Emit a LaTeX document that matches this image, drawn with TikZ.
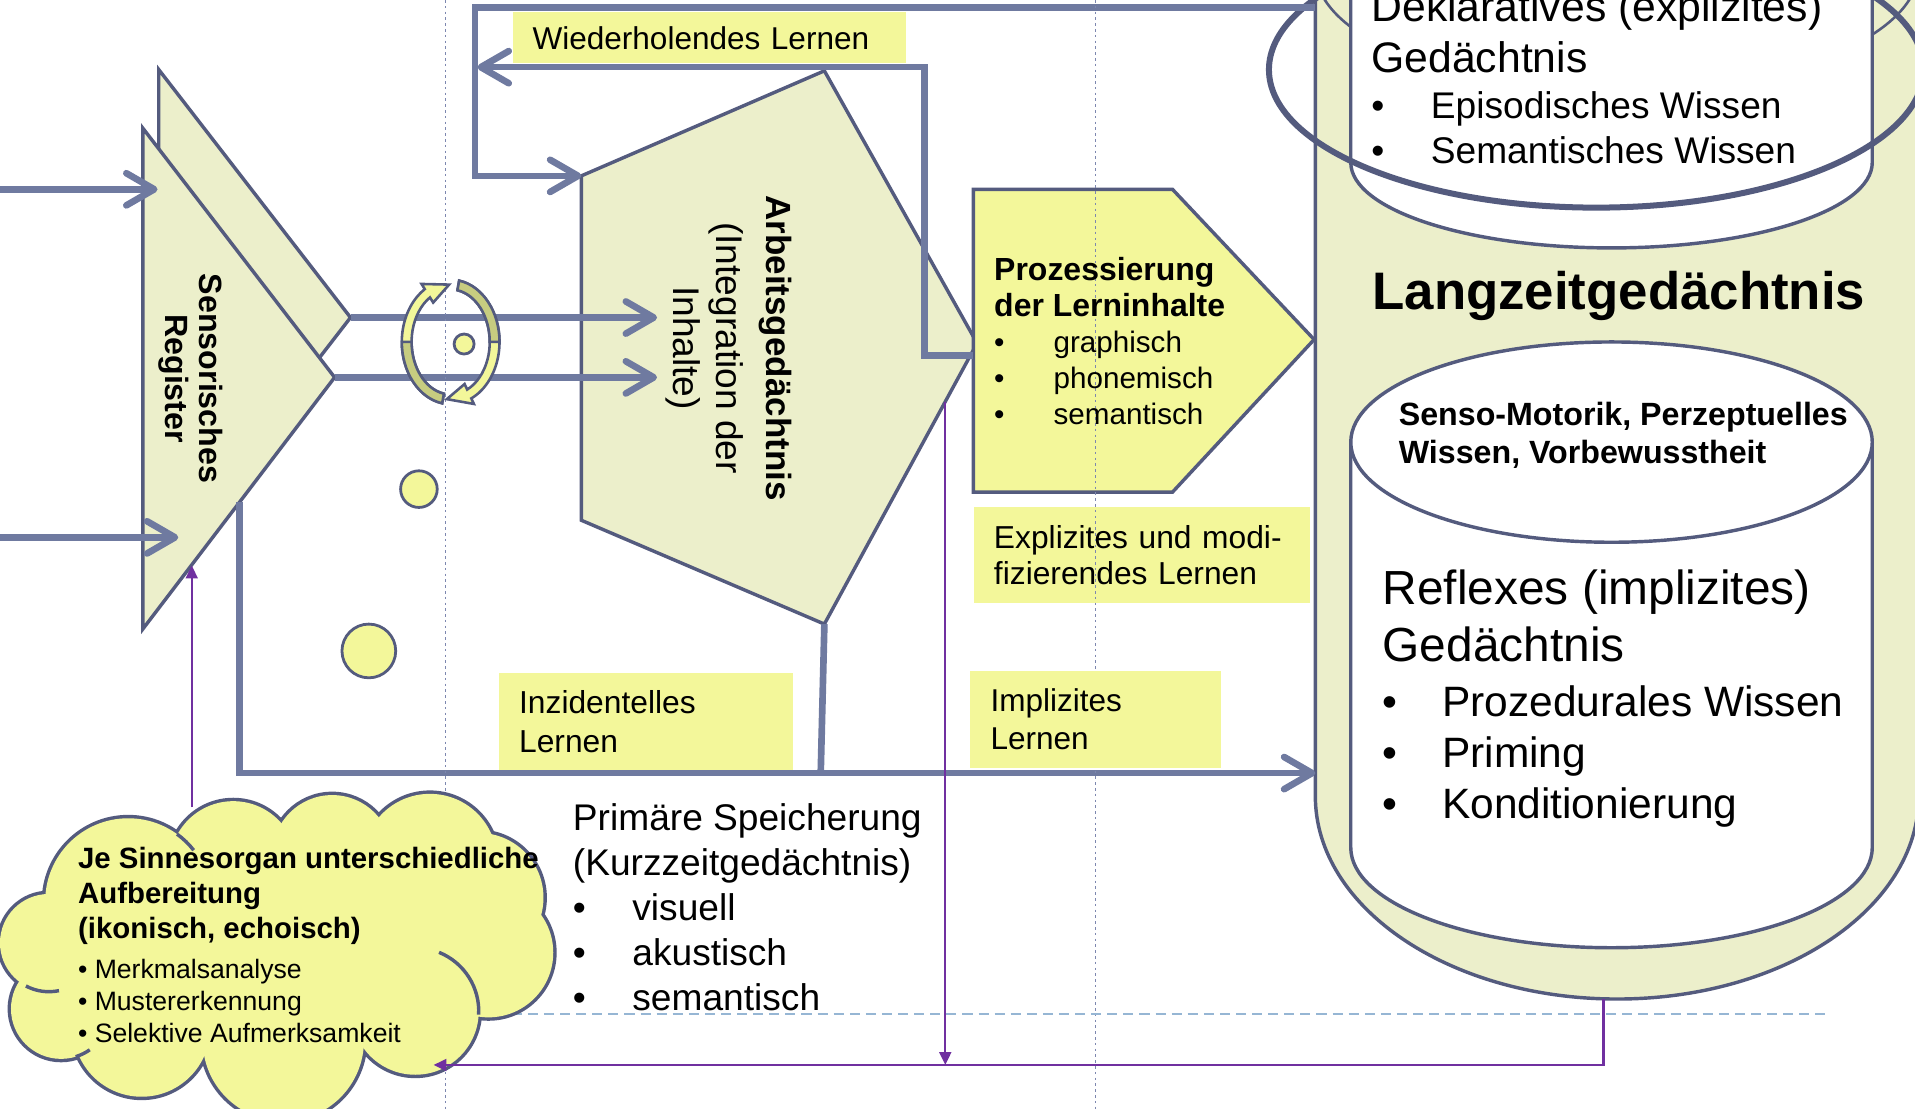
\documentclass[tikz,border=0pt]{standalone}
\usepackage{fontspec}
\setmainfont{Liberation Sans}
\usetikzlibrary{arrows.meta}

\definecolor{flowblue}{RGB}{111,122,160}
\definecolor{edgeblue}{RGB}{84,91,126}
\definecolor{paleolive}{RGB}{236,239,203}
\definecolor{noteyellow}{RGB}{243,247,154}
\definecolor{darkolive}{RGB}{199,204,128}
\definecolor{purpleline}{RGB}{112,48,160}
\definecolor{guideblue}{RGB}{125,135,175}
\definecolor{dashblue}{RGB}{150,182,212}

\newcommand{\fsz}[2]{\fontsize{#1pt}{#2pt}\selectfont}
\newcommand{\bul}{\makebox[27.7pt][l]{\textbullet}}
\newcommand{\cloudbumps}{40/772/40,105/738/68,191/708/52,272/700/49,352/705/55,392/735/53,400/780/53,340/828/52,232/852/66,116/842/56,50/826/41}

\begin{document}
\begin{tikzpicture}[x=0.02cm,y=-0.02cm,
flow/.style={draw=flowblue,line width=3.1pt},
flowarrow/.style={flow,-{Straight Barb[length=13pt,width=15pt,round]}},
rim/.style={draw=edgeblue,line width=1.6pt},
feedback/.style={draw=purpleline,line width=1.1pt,-{Triangle[length=6pt,width=5.5pt]}},
notebox/.style={fill=noteyellow,inner ysep=0pt,align=left},
txt/.style={inner sep=0pt,anchor=base west,align=left},
blob/.style={fill=noteyellow,draw=edgeblue,line width=1.3pt},
guide/.style={draw=guideblue,line width=0.6pt,dash pattern=on 1.2pt off 1.5pt},
dashline/.style={draw=dashblue,line width=1.1pt,dash pattern=on 4.7pt off 2.8pt}]

\useasboundingbox (0,0) rectangle (1568,908);
\clip (0,0) rectangle (1568,908);

% Langzeitgedaechtnis
\draw[rim,fill=paleolive] (1077,-150) -- (1077,652) arc[start angle=180,end angle=0,x radius=247,y radius=166] -- (1571,-150) -- cycle;
\draw[rim,line width=1.2pt] (1324,-25) ellipse[x radius=247,y radius=100];
\draw[rim,fill=white] (1106,-150) -- (1106,133) arc[start angle=180,end angle=0,x radius=213.5,y radius=70] -- (1533,-150) -- cycle;
\draw[rim,line width=2.8pt] (1307,57) ellipse[x radius=268,y radius=113];
\draw[rim,fill=white] (1106,362) -- (1106,694) arc[start angle=180,end angle=0,x radius=213.5,y radius=82] -- (1533,362) -- cycle;
\draw[rim,fill=white] (1319.5,362) ellipse[x radius=213.5,y radius=82];
\coordinate (LTMtop) at (1077,6);
\coordinate (LTMin) at (1077,633);
\coordinate (LTMbottom) at (1313,818);

% sensorisches Register
\draw[rim,fill=paleolive] (130,57) -- (287,260) -- (130,463) -- cycle;
\draw[rim,fill=paleolive] (117,105) -- (274,309) -- (117,515) -- cycle;
\coordinate (SRback) at (287,260);
\coordinate (SRfront) at (274,309);
\coordinate (SRlow) at (196,411);
\coordinate (SRfb) at (157,463);
\coordinate (SRinA) at (129,155);
\coordinate (SRinB) at (146,440);
\coordinate (inA) at (0,155);
\coordinate (inB) at (0,440);

% Arbeitsgedaechtnis
\draw[rim,fill=paleolive] (476,144) -- (675,58) -- (800,281) -- (675,511) -- (476,426) -- cycle;
\coordinate (AGin) at (476,144);
\coordinate (AGinA) at (538,260);
\coordinate (AGinB) at (538,309);
\coordinate (AGbottom) at (675,511);
\coordinate (AGjoin) at (672,633);
\coordinate (AGfb) at (774,329);
\coordinate (AGfbend) at (774,872);

% Prozessierung
\draw[rim,fill=noteyellow] (797,155) -- (960,155) -- (1076,278) -- (960,403) -- (797,403) -- cycle;
\coordinate (PZin) at (797,291);
\coordinate (WLend) at (391,55);

\draw[flowarrow] (inA) -- (SRinA);
\draw[flowarrow] (inB) -- (SRinB);
\draw[flowarrow] (SRback) -- (AGinA);
\draw[flowarrow] (SRfront) -- (AGinB);
\draw[flowarrow] (LTMtop) -| (389,144) -- (AGin);
\draw[flowarrow] (PZin) -| (757,55) -- (WLend);
\draw[flowarrow] (SRlow) |- (LTMin);
\draw[flow] (AGbottom) -- (AGjoin);

\draw (581,31) node[notebox,minimum height=0.84cm,text width=5.8cm,inner xsep=0.32cm,font=\fsz{14.7}{17.6}] (wdh) {Wiederholendes Lernen};
\draw (935.1,454.5) node[notebox,minimum height=1.58cm,text width=4.85cm,inner xsep=0.32cm,font=\fsz{14.8}{17.1}] (expl) {Explizites und modi-\\fizierendes Lernen};

\draw[guide] (365,0) -- (365,908);
\draw[guide] (897,0) -- (897,908);

\draw (528.8,590.75) node[notebox,minimum height=1.59cm,text width=4.15cm,inner xsep=0.33cm,font=\fsz{14.8}{17.9}] (inz) {Inzidentelles\\Lernen};
\draw (897,589) node[notebox,minimum height=1.58cm,text width=3.44cm,inner xsep=0.34cm,font=\fsz{14.7}{17.7}] (impl) {Implizites\\Lernen};

% kreisende Pfeile
\begin{scope}[shift={(369,280)}]
\draw[rim,line width=1.2pt,fill=noteyellow] (100:40 and 51) arc[start angle=100,end angle=238,x radius=40,y radius=51] -- (238:45 and 56) -- (268:36 and 47) -- (238:27 and 38) -- (238:32 and 43) arc[start angle=238,end angle=100,x radius=32,y radius=43] -- cycle;
\draw[rim,line width=1.2pt,fill=noteyellow] (280:40 and 51) arc[start angle=280,end angle=425,x radius=40,y radius=51] -- (425:45 and 56) -- (455:36 and 47) -- (425:27 and 38) -- (425:32 and 43) arc[start angle=425,end angle=280,x radius=32,y radius=43] -- cycle;
\draw[rim,line width=1.2pt,fill=darkolive] (280:40 and 51) arc[start angle=280,end angle=360,x radius=40,y radius=51] -- (360:32 and 43) arc[start angle=360,end angle=280,x radius=32,y radius=43] -- cycle;
\draw[rim,line width=1.2pt,fill=darkolive] (100:40 and 51) arc[start angle=100,end angle=180,x radius=40,y radius=51] -- (180:32 and 43) arc[start angle=180,end angle=100,x radius=32,y radius=43] -- cycle;
\end{scope}
\draw[blob] (380,281.7) circle[radius=8.2];
\draw[blob] (343,400.5) circle[radius=15];
\draw[blob] (302,533) circle[radius=22];

\draw[dashline] (340,830) -- (1494,830);

% Wolke
\foreach \cx/\cy/\r in \cloudbumps
  \draw[rim,line width=3.2pt] (\cx,\cy) circle[radius=\r];
\foreach \cx/\cy/\r in \cloudbumps
  \fill[noteyellow] (\cx,\cy) circle[radius=\r];
\fill[noteyellow] (40,772) -- (105,738) -- (191,708) -- (272,700) -- (352,705) -- (392,735) -- (400,780) -- (340,828) -- (232,852) -- (116,842) -- (50,826) -- cycle;
\draw[rim] (340,828) ++(3:52) arc[start angle=3,end angle=-68,radius=52];
\draw[rim] (105,738) ++(-54:68) arc[start angle=-54,end angle=-38,radius=68];
\draw[rim] (50,826) ++(73:41) arc[start angle=73,end angle=55,radius=41];
\draw[rim] (40,772) ++(118:40) arc[start angle=118,end angle=78,radius=40];
\coordinate (CLtop) at (157,661);
\coordinate (CLtip) at (355,872);

\draw[feedback] (LTMbottom) |- (CLtip);
\draw[feedback] (AGfb) -- (AGfbend);
\draw[feedback] (CLtop) -- (SRfb);

% Texte (base = Grundlinie der letzten Zeile)
\draw (156,310) node[rotate=-90,align=center,font=\bfseries\fsz{15}{15.8}] (sr) {Sensorisches\\Register};
\draw (597,285) node[rotate=-90,align=center,font=\fsz{17.3}{19.6}] (ag) {{\bfseries\fsz{16.3}{19.6}Arbeitsgedächtnis}\\[4pt](Integration der\\Inhalte)};
\draw (813.7,347.6) node[txt,font=\fsz{13.8}{16.8}] (pzt) {{\bfseries\fsz{14.9}{16.8}Prozessierung}\\{\bfseries\fsz{14.9}{16.8}der Lerninhalte}\\\bul graphisch\\\bul phonemisch\\\bul semantisch};
\draw (468.8,827) node[txt,font=\fsz{17.3}{20.9}] (kzg) {Primäre Speicherung\\(Kurzzeitgedächtnis)\\\bul visuell\\\bul akustisch\\\bul semantisch};
\draw (63.6,768.3) node[txt,font=\bfseries\fsz{13.7}{16.2}] (cloudhead) {Je Sinnesorgan unterschiedliche\\Aufbereitung\\(ikonisch, echoisch)};
\draw (63.6,853.7) node[txt,font=\fsz{12.4}{14.9}] (cloudlist) {\textbullet\ Merkmalsanalyse\\\textbullet\ Mustererkennung\\\textbullet\ Selektive Aufmerksamkeit};

\draw (1122.6,59) node[txt,font=\fsz{19.9}{23.6}] (dekl) {Deklaratives (explizites)\\Gedächtnis};
\draw (1122.6,134) node[txt,font=\fsz{17.3}{21}] (dekllist) {\bul Episodisches Wissen\\\bul Semantisches Wissen};
\draw (1123.4,253.5) node[txt,font=\bfseries\fsz{24.6}{28}] (ltm) {Langzeitgedächtnis};
\draw (1145,379.5) node[txt,font=\bfseries\fsz{15}{17.9}] (senso) {Senso-Motorik, Perzeptuelles\\Wissen, Vorbewusstheit};
\draw (1131.8,542) node[txt,font=\fsz{22.3}{26.8}] (refl) {Reflexes (implizites)\\Gedächtnis};
\draw (1131.8,670) node[txt,font=\fsz{19.8}{23.8}] (refllist) {\bul Prozedurales Wissen\\\bul Priming\\\bul Konditionierung};
\end{tikzpicture}
\end{document}
